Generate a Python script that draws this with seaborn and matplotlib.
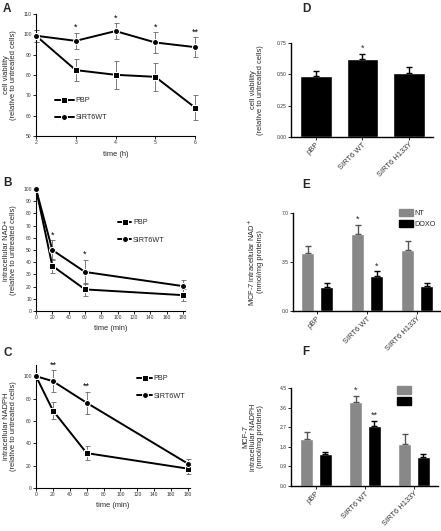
import numpy as np
import pandas as pd
import matplotlib
matplotlib.use("Agg")
import matplotlib.pyplot as plt
from matplotlib.patches import Patch
import seaborn as sns

sns.set_theme(style="ticks")
plt.rcParams['font.family'] = ['Liberation Sans', 'DejaVu Sans']

# ---------------- data ----------------
groups = ["PBP", "SIRT6WT"]

A_time = [2, 3, 4, 5, 6]
A_pbp = [99.3, 82.4, 80.1, 79.1, 64.0]
A_pbp_err = [3.0, 5.3, 7.0, 7.0, 6.0]
A_wt = [99.3, 96.8, 101.6, 96.0, 93.7]
A_wt_err = [3.0, 4.0, 4.0, 5.0, 5.0]
A_sig = ["", "*", "*", "*", "**"]

B_time = [0, 20, 60, 180]
B_pbp = [100, 37.0, 17.7, 13.0]
B_pbp_err = [0, 5.7, 5.0, 5.0]
B_wt = [100, 50.0, 32.0, 20.4]
B_wt_err = [0, 8.0, 10.0, 5.0]
B_sig = ["", "*", "*", ""]

C_time = [0, 20, 60, 180]
C_pbp = [100, 69.3, 31.2, 17.3]
C_pbp_err = [0, 8.0, 6.0, 5.0]
C_wt = [100, 95.5, 76.2, 21.7]
C_wt_err = [0, 10.0, 10.0, 4.5]
C_sig = ["", "**", "**", ""]

bar_cats = ["pBP", "SIRT6 WT", "SIRT6 H133Y"]
D_vals = [0.49, 0.623, 0.514]
D_err = [0.037, 0.042, 0.048]
D_sig = ["", "*", ""]

conds = ["NT", "DOXO"]
E_nt = [4.11, 5.53, 4.33]
E_nt_err = [0.50, 0.64, 0.66]
E_doxo = [1.70, 2.53, 1.82]
E_doxo_err = [0.33, 0.31, 0.17]
E_sig_nt = ["", "*", ""]
E_sig_doxo = ["", "*", ""]

F_nt = [2.14, 3.85, 1.94]
F_nt_err = [0.34, 0.28, 0.43]
F_doxo = [1.45, 2.74, 1.31]
F_doxo_err = [0.11, 0.25, 0.18]
F_sig_nt = ["", "*", ""]
F_sig_doxo = ["", "**", ""]

# ---------------- figure ----------------
W, H = 441, 531
fig = plt.figure(figsize=(W / 100, H / 100), dpi=100)

def px_axes(left, top, right, bottom):
    return fig.add_axes([left / W, 1 - bottom / H, (right - left) / W, (bottom - top) / H])

TICK_FS = 3.6
LAB_FS = 5.4
LEG_FS = 5.2
STAR_FS = 6.5
GRAY = "#888888"

def style_axes(ax, lw=0.8):
    sns.despine(ax=ax)
    for s in ["left", "bottom"]:
        ax.spines[s].set_linewidth(lw)
        ax.spines[s].set_color("black")
    ax.tick_params(axis="both", labelsize=TICK_FS, length=2, width=0.6, pad=1,
                   colors="black", labelcolor="#333333")

def line_panel(ax, t, pbp, pbp_err, wt, wt_err, sig, unit_gap):
    df = pd.DataFrame({
        "time": list(t) * 2,
        "value": list(pbp) + list(wt),
        "group": [groups[0]] * len(t) + [groups[1]] * len(t),
    })
    sns.lineplot(data=df, x="time", y="value", style="group", style_order=groups,
                 markers={"PBP": "s", "SIRT6WT": "o"}, dashes=False, color="black",
                 linewidth=1.4, markersize=4.3, legend=False, ax=ax, clip_on=False,
                 zorder=3)
    handles = list(ax.lines[:2])
    ax.errorbar(t, pbp, yerr=pbp_err, fmt="none", ecolor="#666666", elinewidth=0.6,
                capsize=1.8, capthick=0.6, zorder=2, clip_on=False)
    ax.errorbar(t, wt, yerr=wt_err, fmt="none", ecolor="#666666", elinewidth=0.6,
                capsize=1.8, capthick=0.6, zorder=2, clip_on=False)
    for xi, yi, ei, s in zip(t, wt, wt_err, sig):
        if s:
            ax.text(xi, yi + ei + unit_gap, s, ha="center", va="bottom",
                    fontsize=STAR_FS, color="black")
    style_axes(ax)
    return handles

# ---- A ----
axA = px_axes(36, 14, 195, 136)
hA = line_panel(axA, A_time, A_pbp, A_pbp_err, A_wt, A_wt_err, A_sig, 0.3)
axA.set_xlim(2, 6)
axA.set_ylim(50, 110)
axA.set_xticks(A_time)
axA.set_yticks(np.arange(50, 111, 10))
axA.set_xlabel("time (h)", fontsize=LAB_FS)
axA.set_ylabel("cell viability\n(relative to untreated cells)", fontsize=LAB_FS, linespacing=1.05)
axA.legend(hA, groups, loc="center left", bbox_to_anchor=(0.12, 0.22), frameon=False,
           fontsize=LEG_FS, handlelength=2.6, labelspacing=1.4, handletextpad=0.2,
           borderpad=0, borderaxespad=0)

# ---- B ----
axB = px_axes(36, 189, 184.6, 311)
hB = line_panel(axB, B_time, B_pbp, B_pbp_err, B_wt, B_wt_err, B_sig, 0.5)
axB.set_xlim(0, 182)
axB.set_ylim(0, 100)
axB.set_xticks(np.arange(0, 181, 20))
axB.set_yticks(np.arange(0, 101, 10))
axB.set_xlabel("time (min)", fontsize=LAB_FS)
axB.set_ylabel("intracellular NAD+\n(relative to untreated cells)", fontsize=LAB_FS, linespacing=1.05)
axB.legend(hB, groups, loc="center left", bbox_to_anchor=(0.55, 0.652), frameon=False,
           fontsize=LEG_FS, handlelength=1.9, labelspacing=1.4, handletextpad=0.2,
           borderpad=0, borderaxespad=0)

# ---- C ----
axC = px_axes(36, 365, 189.7, 488)
hC = line_panel(axC, C_time, C_pbp, C_pbp_err, C_wt, C_wt_err, C_sig, 0.5)
axC.set_xlim(0, 182)
axC.set_ylim(0, 110)
axC.set_xticks(np.arange(0, 181, 20))
axC.set_yticks(np.arange(0, 101, 20))
axC.set_xlabel("time (min)", fontsize=LAB_FS)
axC.set_ylabel("intracellular NADPH\n(relative to untreated cells)", fontsize=LAB_FS, linespacing=1.05)
axC.legend(hC, groups, loc="center left", bbox_to_anchor=(0.66, 0.817), frameon=False,
           fontsize=LEG_FS, handlelength=2.0, labelspacing=1.4, handletextpad=0.2,
           borderpad=0, borderaxespad=0)

for ax, xl in [(axA, -0.12), (axB, -0.128), (axC, -0.124)]:
    ax.yaxis.set_label_coords(xl, 0.5)
axA.xaxis.set_label_coords(0.5, -0.125)
axB.xaxis.set_label_coords(0.5, -0.115)
axC.xaxis.set_label_coords(0.5, -0.114)

# ---- D ----
axD = px_axes(291, 43, 433, 137)
sns.barplot(x=bar_cats, y=D_vals, color="black", saturation=1, width=0.68,
            errorbar=None, ax=axD)
for bar, e, s in zip(axD.containers[0], D_err, D_sig):
    xc = bar.get_x() + bar.get_width() / 2
    top = bar.get_height()
    axD.errorbar([xc], [top], yerr=[[0], [e]], fmt="none", ecolor="black",
                 elinewidth=1.0, capsize=2.2, capthick=1.0, clip_on=False)
    if s:
        axD.text(xc, top + e + 0.01, s, ha="center", va="bottom", fontsize=STAR_FS)
axD.set_xlim(-0.54, 2.52)
axD.set_ylim(0, 0.75)
axD.set_yticks([0, 0.25, 0.5, 0.75])
axD.set_yticklabels(["0.00", "0.25", "0.50", "0.75"])
axD.set_ylabel("cell viability\n(relative to untreated cells)", fontsize=LAB_FS, linespacing=1.05)

def grouped_panel(ax, nt, nt_err, doxo, doxo_err, sig_nt, sig_doxo, star_gap):
    df = pd.DataFrame({
        "cat": bar_cats * 2,
        "cond": [conds[0]] * 3 + [conds[1]] * 3,
        "value": list(nt) + list(doxo),
    })
    sns.barplot(data=df, x="cat", y="value", hue="cond", hue_order=conds,
                palette={"NT": GRAY, "DOXO": "black"}, saturation=1, width=0.76,
                gap=0.3, errorbar=None, legend=False, ax=ax)
    for cont, errs, sigs, col in [(ax.containers[0], nt_err, sig_nt, "#555555"),
                                  (ax.containers[1], doxo_err, sig_doxo, "black")]:
        for bar, e, s in zip(cont, errs, sigs):
            xc = bar.get_x() + bar.get_width() / 2
            top = bar.get_height()
            ax.errorbar([xc], [top], yerr=[[0], [e]], fmt="none", ecolor=col,
                        elinewidth=1.0, capsize=2.0, capthick=1.0, clip_on=False)
            if s:
                ax.text(xc, top + e + star_gap, s, ha="center", va="bottom",
                        fontsize=STAR_FS)

# ---- E ----
axE = px_axes(293, 213, 442, 311)
grouped_panel(axE, E_nt, E_nt_err, E_doxo, E_doxo_err, E_sig_nt, E_sig_doxo, 0.05)
axE.set_xlim(-0.48, 2.5)
axE.set_ylim(0, 7.0)
axE.set_yticks([0, 3.5, 7.0])
axE.set_yticklabels(["0.0", "3.5", "7.0"])
axE.set_ylabel("MCF-7 intracellular NAD$^{+}$\n(nmol/mg proteins)", fontsize=LAB_FS, linespacing=1.05)
axE.legend([Patch(color=GRAY), Patch(color="black")], conds, loc="center left",
           bbox_to_anchor=(0.71, 0.944), frameon=False, fontsize=LEG_FS,
           handlelength=2.0, handleheight=1.2, labelspacing=0.35, handletextpad=0.1,
           borderpad=0, borderaxespad=0)

# ---- F ----
axF = px_axes(291, 388, 438, 486)
grouped_panel(axF, F_nt, F_nt_err, F_doxo, F_doxo_err, F_sig_nt, F_sig_doxo, 0.05)
axF.set_xlim(-0.51, 2.49)
axF.set_ylim(0, 4.5)
axF.set_yticks([0, 0.9, 1.8, 2.7, 3.6, 4.5])
axF.set_yticklabels(["0.0", "0.9", "1.8", "2.7", "3.6", "4.5"])
axF.set_ylabel("MCF-7\nintracellular NADPH\n(nmol/mg proteins)", fontsize=LAB_FS, linespacing=1.05)
axF.legend([Patch(color=GRAY), Patch(color="black")], ["", ""], loc="center left",
           bbox_to_anchor=(0.72, 0.92), frameon=False, fontsize=LEG_FS,
           handlelength=2.0, handleheight=1.2, labelspacing=0.35, handletextpad=0.1,
           borderpad=0, borderaxespad=0)

for ax, xl in [(axD, -0.19), (axE, -0.195), (axF, -0.184)]:
    style_axes(ax, lw=1.0)
    ax.set_xlabel("")
    ax.set_xticks(range(len(bar_cats)))
    ax.set_xticklabels(bar_cats, rotation=45, ha="right", rotation_mode="anchor",
                       fontsize=LAB_FS)
    ax.yaxis.set_label_coords(xl, 0.5)

# panel letters
for letter, x, y in [("A", 3, 12), ("B", 3, 186), ("C", 3, 356),
                     ("D", 302, 12), ("E", 302, 188), ("F", 302, 355)]:
    fig.text(x / W, 1 - y / H, letter, fontsize=8.5, fontweight="bold",
             ha="left", va="baseline")

fig.savefig("out.png", dpi=100)
